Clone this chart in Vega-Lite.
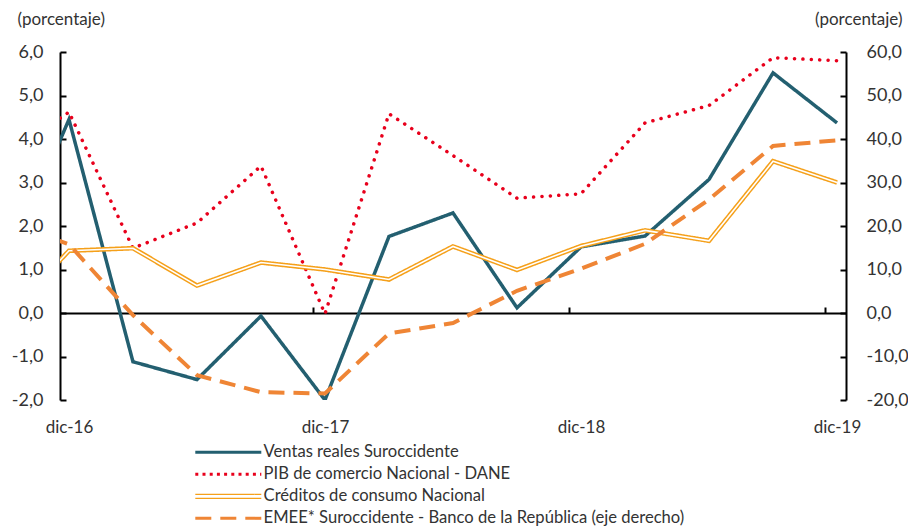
{
  "$schema": "https://vega.github.io/schema/vega-lite/v6.json",
  "width": 786,
  "height": 348,
  "autosize": "none",
  "padding": {"left": 60, "top": 52, "right": 62, "bottom": 129},
  "background": "white",
  "config": {
    "view": {"stroke": null},
    "font": "Lato",
    "axis": {"labelFont": "Lato", "titleFont": "Lato", "labelColor": "#333333", "titleColor": "#333333", "grid": false, "titleFontWeight": "normal"},
    "legend": {"labelFont": "Lato", "labelColor": "#333333"}
  },
  "datasets": {
    "series": [
      {"i": -1, "fecha": "sep-16", "serie": "Ventas reales Suroccidente", "valor": 1.0},
      {"i": 0, "fecha": "dic-16", "serie": "Ventas reales Suroccidente", "valor": 4.45},
      {"i": 1, "fecha": "mar-17", "serie": "Ventas reales Suroccidente", "valor": -1.12},
      {"i": 2, "fecha": "jun-17", "serie": "Ventas reales Suroccidente", "valor": -1.53},
      {"i": 3, "fecha": "sep-17", "serie": "Ventas reales Suroccidente", "valor": -0.07},
      {"i": 4, "fecha": "dic-17", "serie": "Ventas reales Suroccidente", "valor": -2.0},
      {"i": 5, "fecha": "mar-18", "serie": "Ventas reales Suroccidente", "valor": 1.76},
      {"i": 6, "fecha": "jun-18", "serie": "Ventas reales Suroccidente", "valor": 2.3},
      {"i": 7, "fecha": "sep-18", "serie": "Ventas reales Suroccidente", "valor": 0.12},
      {"i": 8, "fecha": "dic-18", "serie": "Ventas reales Suroccidente", "valor": 1.52},
      {"i": 9, "fecha": "mar-19", "serie": "Ventas reales Suroccidente", "valor": 1.77},
      {"i": 10, "fecha": "jun-19", "serie": "Ventas reales Suroccidente", "valor": 3.07},
      {"i": 11, "fecha": "sep-19", "serie": "Ventas reales Suroccidente", "valor": 5.52},
      {"i": 12, "fecha": "dic-19", "serie": "Ventas reales Suroccidente", "valor": 4.37},
      {"i": -1, "fecha": "sep-16", "serie": "PIB de comercio Nacional - DANE", "valor": 3.6},
      {"i": 0, "fecha": "dic-16", "serie": "PIB de comercio Nacional - DANE", "valor": 4.62},
      {"i": 1, "fecha": "mar-17", "serie": "PIB de comercio Nacional - DANE", "valor": 1.49},
      {"i": 2, "fecha": "jun-17", "serie": "PIB de comercio Nacional - DANE", "valor": 2.07},
      {"i": 3, "fecha": "sep-17", "serie": "PIB de comercio Nacional - DANE", "valor": 3.38},
      {"i": 4, "fecha": "dic-17", "serie": "PIB de comercio Nacional - DANE", "valor": -0.02},
      {"i": 5, "fecha": "mar-18", "serie": "PIB de comercio Nacional - DANE", "valor": 4.58},
      {"i": 6, "fecha": "jun-18", "serie": "PIB de comercio Nacional - DANE", "valor": 3.62},
      {"i": 7, "fecha": "sep-18", "serie": "PIB de comercio Nacional - DANE", "valor": 2.64},
      {"i": 8, "fecha": "dic-18", "serie": "PIB de comercio Nacional - DANE", "valor": 2.74},
      {"i": 9, "fecha": "mar-19", "serie": "PIB de comercio Nacional - DANE", "valor": 4.37},
      {"i": 10, "fecha": "jun-19", "serie": "PIB de comercio Nacional - DANE", "valor": 4.77},
      {"i": 11, "fecha": "sep-19", "serie": "PIB de comercio Nacional - DANE", "valor": 5.87},
      {"i": 12, "fecha": "dic-19", "serie": "PIB de comercio Nacional - DANE", "valor": 5.8},
      {"i": -1, "fecha": "sep-16", "serie": "Créditos de consumo Nacional", "valor": -0.13},
      {"i": 0, "fecha": "dic-16", "serie": "Créditos de consumo Nacional", "valor": 1.43},
      {"i": 1, "fecha": "mar-17", "serie": "Créditos de consumo Nacional", "valor": 1.49},
      {"i": 2, "fecha": "jun-17", "serie": "Créditos de consumo Nacional", "valor": 0.63},
      {"i": 3, "fecha": "sep-17", "serie": "Créditos de consumo Nacional", "valor": 1.16},
      {"i": 4, "fecha": "dic-17", "serie": "Créditos de consumo Nacional", "valor": 1.0},
      {"i": 5, "fecha": "mar-18", "serie": "Créditos de consumo Nacional", "valor": 0.77},
      {"i": 6, "fecha": "jun-18", "serie": "Créditos de consumo Nacional", "valor": 1.53},
      {"i": 7, "fecha": "sep-18", "serie": "Créditos de consumo Nacional", "valor": 0.99},
      {"i": 8, "fecha": "dic-18", "serie": "Créditos de consumo Nacional", "valor": 1.54},
      {"i": 9, "fecha": "mar-19", "serie": "Créditos de consumo Nacional", "valor": 1.9},
      {"i": 10, "fecha": "jun-19", "serie": "Créditos de consumo Nacional", "valor": 1.66},
      {"i": 11, "fecha": "sep-19", "serie": "Créditos de consumo Nacional", "valor": 3.49},
      {"i": 12, "fecha": "dic-19", "serie": "Créditos de consumo Nacional", "valor": 3.0},
      {"i": -1, "fecha": "sep-16", "serie": "EMEE* Suroccidente - Banco de la República (eje derecho)", "valor": 21.1},
      {"i": 0, "fecha": "dic-16", "serie": "EMEE* Suroccidente - Banco de la República (eje derecho)", "valor": 15.8},
      {"i": 1, "fecha": "mar-17", "serie": "EMEE* Suroccidente - Banco de la República (eje derecho)", "valor": -0.5},
      {"i": 2, "fecha": "jun-17", "serie": "EMEE* Suroccidente - Banco de la República (eje derecho)", "valor": -14.3},
      {"i": 3, "fecha": "sep-17", "serie": "EMEE* Suroccidente - Banco de la República (eje derecho)", "valor": -18.2},
      {"i": 4, "fecha": "dic-17", "serie": "EMEE* Suroccidente - Banco de la República (eje derecho)", "valor": -18.5},
      {"i": 5, "fecha": "mar-18", "serie": "EMEE* Suroccidente - Banco de la República (eje derecho)", "valor": -4.7},
      {"i": 6, "fecha": "jun-18", "serie": "EMEE* Suroccidente - Banco de la República (eje derecho)", "valor": -2.3},
      {"i": 7, "fecha": "sep-18", "serie": "EMEE* Suroccidente - Banco de la República (eje derecho)", "valor": 5.1},
      {"i": 8, "fecha": "dic-18", "serie": "EMEE* Suroccidente - Banco de la República (eje derecho)", "valor": 10.2},
      {"i": 9, "fecha": "mar-19", "serie": "EMEE* Suroccidente - Banco de la República (eje derecho)", "valor": 15.9},
      {"i": 10, "fecha": "jun-19", "serie": "EMEE* Suroccidente - Banco de la República (eje derecho)", "valor": 26.1},
      {"i": 11, "fecha": "sep-19", "serie": "EMEE* Suroccidente - Banco de la República (eje derecho)", "valor": 38.4},
      {"i": 12, "fecha": "dic-19", "serie": "EMEE* Suroccidente - Banco de la República (eje derecho)", "valor": 39.7}
    ]
  },
  "data": {"name": "series"},
  "layer": [
    {
      "transform": [{"filter": "datum.serie === 'Ventas reales Suroccidente'"}],
      "mark": {"type": "line", "strokeWidth": 3.5, "clip": true},
      "encoding": {
        "x": {"field": "i", "type": "quantitative", "scale": {"domain": [-0.14, 12.14], "nice": false, "zero": false},
          "axis": {"orient": "bottom", "values": [0, 4, 8, 12], "labelExpr": "datum.value == 0 ? 'dic-16' : datum.value == 4 ? 'dic-17' : datum.value == 8 ? 'dic-18' : 'dic-19'", "domain": false, "ticks": false, "labelPadding": 19, "labelFontSize": 17, "title": null}},
        "y": {"field": "valor", "type": "quantitative", "scale": {"domain": [-2, 6], "nice": false, "zero": false},
          "axis": {"orient": "left", "values": [-2, -1, 0, 1, 2, 3, 4, 5, 6], "labelExpr": "(datum.value < 0 ? '-' : '') + replace(format(abs(datum.value), '.1f'), '.', ',')", "domainColor": "black", "domainWidth": 2, "tickColor": "black", "tickWidth": 2, "tickSize": -6, "labelPadding": 23, "labelFontSize": 18, "title": "(porcentaje)", "titleAngle": 0, "titleAlign": "left", "titleBaseline": "alphabetic", "titleX": -43, "titleY": -28, "titleFontSize": 17}},
        "color": {"field": "serie", "type": "nominal", "title": null,
          "scale": {"domain": ["Ventas reales Suroccidente", "PIB de comercio Nacional - DANE", "Créditos de consumo Nacional", "EMEE* Suroccidente - Banco de la República (eje derecho)"], "range": ["#235F70", "#E8001C", "#F5A01A", "#EF8535"]},
          "legend": {"orient": "none", "legendX": 160, "legendY": 392, "symbolType": "stroke", "symbolSize": 4356, "symbolStrokeWidth": 3, "labelFontSize": 16.6, "labelOffset": 27, "rowPadding": 5, "labelLimit": 600,
            "encode": {"symbols": {"update": {"strokeCap": {"value": "butt"}, "shape": {"signal": "datum.value === 'Créditos de consumo Nacional' ? 'M-1,-0.06H1M-1,0.06H1' : 'stroke'"}, "strokeWidth": {"signal": "datum.value === 'Créditos de consumo Nacional' ? 1.3 : 3"}}}}}},
        "strokeDash": {"field": "serie", "type": "nominal", "title": null,
          "scale": {"domain": ["Ventas reales Suroccidente", "PIB de comercio Nacional - DANE", "Créditos de consumo Nacional", "EMEE* Suroccidente - Banco de la República (eje derecho)"], "range": [[1, 0], [3, 4.2], [1, 0], [16, 9]]}}
      }
    },
    {
      "transform": [{"filter": "datum.serie === 'PIB de comercio Nacional - DANE'"}],
      "mark": {"type": "line", "strokeWidth": 3.5, "clip": true, "strokeCap": "round"},
      "encoding": {
        "x": {"field": "i", "type": "quantitative", "axis": null},
        "y": {"field": "valor", "type": "quantitative", "scale": {"domain": [-2, 6], "nice": false, "zero": false}, "axis": null},
        "color": {"field": "serie", "type": "nominal"},
        "strokeDash": {"value": [0.1, 8.3]}
      }
    },
    {
      "transform": [{"filter": "datum.serie === 'Créditos de consumo Nacional'"}],
      "mark": {"type": "line", "strokeWidth": 4.6, "clip": true},
      "encoding": {
        "x": {"field": "i", "type": "quantitative", "axis": null},
        "y": {"field": "valor", "type": "quantitative", "scale": {"domain": [-2, 6], "nice": false, "zero": false}, "axis": null},
        "color": {"field": "serie", "type": "nominal"},
        "strokeDash": {"field": "serie", "type": "nominal"}
      }
    },
    {
      "transform": [{"filter": "datum.serie === 'Créditos de consumo Nacional'"}],
      "mark": {"type": "line", "strokeWidth": 1.6, "clip": true, "color": "white"},
      "encoding": {
        "x": {"field": "i", "type": "quantitative", "axis": null},
        "y": {"field": "valor", "type": "quantitative", "scale": {"domain": [-2, 6], "nice": false, "zero": false}, "axis": null}
      }
    },
    {
      "transform": [{"filter": "datum.serie === 'EMEE* Suroccidente - Banco de la República (eje derecho)'"}],
      "mark": {"type": "line", "strokeWidth": 4, "clip": true},
      "encoding": {
        "x": {"field": "i", "type": "quantitative",
          "axis": {"orient": "bottom", "offset": -87, "values": [3.81, 7.81, 11.81], "labels": false, "tickSize": -6, "tickColor": "black", "tickWidth": 2, "domainColor": "black", "domainWidth": 2, "title": null}},
        "y": {"field": "valor", "type": "quantitative", "scale": {"domain": [-20, 60], "nice": false, "zero": false},
          "axis": {"orient": "right", "values": [-20, -10, 0, 10, 20, 30, 40, 50, 60], "labelExpr": "(datum.value < 0 ? '-' : '') + replace(format(abs(datum.value), '.1f'), '.', ',')", "domainColor": "black", "domainWidth": 2, "tickColor": "black", "tickWidth": 2, "tickSize": -6, "labelPadding": 26, "labelFontSize": 18, "title": "(porcentaje)", "titleAngle": 0, "titleAlign": "right", "titleBaseline": "alphabetic", "titleX": 56, "titleY": -28, "titleFontSize": 17}},
        "color": {"field": "serie", "type": "nominal"},
        "strokeDash": {"field": "serie", "type": "nominal"}
      }
    }
  ],
  "resolve": {"scale": {"y": "independent"}, "axis": {"x": "independent"}}
}
